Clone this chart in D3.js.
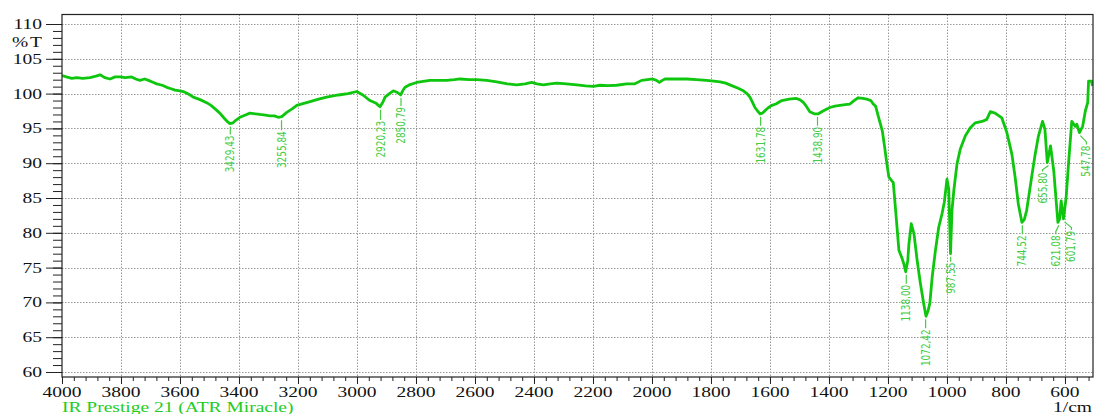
<!DOCTYPE html>
<html>
<head>
<meta charset="utf-8">
<script src="https://cdn.jsdelivr.net/npm/d3@7/dist/d3.min.js"></script>
<style>
  html, body { margin: 0; padding: 0; background: #fff; }
  svg { display: block; }
</style>
</head>
<body>
<svg id="chart" width="1095" height="414"></svg>
<script>
// ---------------- data ----------------
const wavenumber = [4000,3985,3967,3950,3930,3905,3885,3871,3855,3837,3820,3803,3785,3764,3750,3736,3720,3707,3690,3679,3660,3645,3630,3617,3600,3589,3570,3555,3530,3510,3495,3481,3465,3453,3440,3431,3420,3410,3397,3380,3363,3345,3329,3310,3295,3280,3267,3255,3238,3220,3204,3180,3159,3130,3103,3063,3030,3001,2980,2956,2935,2922,2912,2905,2890,2877,2865,2852,2845,2837,2820,2798,2770,2753,2720,2696,2670,2651,2620,2594,2560,2526,2490,2459,2430,2408,2390,2368,2345,2323,2290,2255,2225,2199,2176,2148,2120,2086,2058,2035,2015,1998,1985,1975,1965,1956,1920,1882,1850,1815,1790,1769,1750,1730,1710,1690,1678,1668,1660,1651,1642,1634,1625,1617,1605,1594,1580,1560,1535,1510,1498,1487,1477,1465,1450,1436,1420,1397,1380,1363,1345,1329,1315,1301,1285,1272,1258,1250,1242,1230,1219,1211,1204,1197,1182,1174,1163,1152,1146,1140,1133,1129,1121,1112,1101,1090,1078,1071,1064,1058,1050,1039,1028,1017,1009,1000,994,988,983,977,966,955,938,921,904,881,865,853,837,814,797,780,769,758,746,738,730,713,701,690,676,668,660,649,638,629,624,618,613,605,596,588,577,565,560,551,540,531,523,520,510,507];
const transmittance = [102.6,102.4,102.2,102.3,102.2,102.3,102.5,102.7,102.3,102.1,102.4,102.4,102.3,102.4,102.1,101.9,102.1,101.9,101.6,101.4,101.2,100.9,100.7,100.5,100.4,100.3,99.9,99.5,99.1,98.7,98.3,97.8,97.2,96.6,96.0,95.7,95.8,96.2,96.6,96.9,97.2,97.1,97.0,96.9,96.8,96.8,96.6,96.7,97.3,97.8,98.3,98.6,98.85,99.2,99.5,99.8,100.0,100.3,99.8,99.0,98.6,98.1,98.8,99.5,100.0,100.4,100.2,99.8,100.4,100.9,101.3,101.6,101.8,101.9,101.9,101.9,102.0,102.1,102.0,102.0,101.9,101.7,101.4,101.25,101.4,101.6,101.4,101.25,101.4,101.5,101.4,101.25,101.1,101.05,101.2,101.15,101.2,101.4,101.4,101.9,102.0,102.1,101.9,101.6,101.9,102.1,102.1,102.1,102.0,101.9,101.8,101.7,101.5,101.15,100.8,100.4,100.0,99.5,98.8,98.0,97.5,97.1,97.2,97.55,98.0,98.3,98.5,99.0,99.2,99.3,99.1,98.75,98.2,97.4,97.1,97.1,97.5,98.0,98.2,98.3,98.4,98.5,99.0,99.4,99.3,99.2,99.0,98.5,98.2,96.3,94.6,92.2,90.0,88.0,87.2,83.2,77.5,76.3,75.5,74.4,76.0,78.4,81.3,79.9,76.0,72.7,69.6,68.0,68.8,69.9,73.7,77.5,80.8,82.7,84.4,87.7,86.3,77.0,83.2,86.0,89.9,92.0,93.9,95.1,95.8,96.0,96.3,97.4,97.2,96.5,94.4,91.3,88.0,84.1,81.5,81.9,83.2,88.0,91.3,93.9,96.0,94.9,90.1,92.5,88.9,84.1,81.5,82.0,84.6,82.0,85.1,89.9,96.0,95.3,95.6,94.4,95.3,97.5,98.7,101.8,101.8,101.1];

const peakWavenumber = [3429.43,3255.84,2920.23,2850.79,1631.78,1438.90,1138.00,1072.42,987.55,744.52,655.80,621.08,601.79,547.78];
const peakTransmittance = [95.7,96.6,98.1,99.8,97.1,97.1,74.4,68.0,77.0,81.5,90.1,81.5,82.0,94.4];
const peakLabels = ["3429,43","3255,84","2920,23","2850,79","1631,78","1438,90","1138,00","1072,42","987,55","744,52","655,80","621,08","601,79","547,78"];

const xMajorTicks = d3.range(4000, 599, -200);
const yMajorTicks = d3.range(60, 111, 5);
const yLabel = "% T";
const xLabel = "1/cm";
const instrumentLabel = "IR Prestige 21 (ATR Miracle)";

// ---------------- layout ----------------
const PL = 62, PR = 1093, PT = 14.5, PB = 377;
const x = d3.scaleLinear().domain([4000, 505]).range([PL, PR]);
const y = d3.scaleLinear().domain([60, 110]).range([372, 24]);

// per-label leader layout (text x shift, leader length)
const labelDx = [0,0,0,0,0,0,0,0,0,0,-6,-3,7,6];
const leaderLen = [8,10,10,8,9,9,9,9,5,9,6,9,8,9];

const svg = d3.select("#chart");
const serif = "'Liberation Serif','Times New Roman',serif";
const narrow = "'Liberation Sans Narrow','DejaVu Sans Condensed','Arial Narrow',sans-serif";
const SX = 1.3;

// grid
const grid = svg.append("g").attr("stroke", "#9a9a9a").attr("stroke-width", 1).attr("stroke-dasharray", "1.5,1.5");
grid.selectAll("line.v").data(xMajorTicks.slice(1)).join("line")
  .attr("x1", d => Math.round(x(d)) + 0.5).attr("x2", d => Math.round(x(d)) + 0.5)
  .attr("y1", PT).attr("y2", PB);
grid.selectAll("line.h").data(yMajorTicks).join("line")
  .attr("y1", d => Math.round(y(d)) + 0.5).attr("y2", d => Math.round(y(d)) + 0.5)
  .attr("x1", PL).attr("x2", PR);

// axes
const xMinor = d3.range(4000, 505, -40);
const gx = svg.append("g").attr("transform", `translate(0,${PB})`);
gx.call(d3.axisBottom(x).tickValues(xMinor).tickSize(4).tickFormat(""));
gx.call(g => g.select(".domain").remove());
const gx2 = svg.append("g").attr("transform", `translate(0,${PB})`);
gx2.call(d3.axisBottom(x).tickValues(xMajorTicks).tickSize(7).tickFormat(""));
gx2.call(g => g.select(".domain").remove());

const yMinor = d3.range(60, 110.5, 1);
const gy = svg.append("g").attr("transform", `translate(${PL},0)`);
gy.call(d3.axisLeft(y).tickValues(yMinor).tickSize(9).tickFormat(""));
gy.call(g => g.select(".domain").remove());
const gy2 = svg.append("g").attr("transform", `translate(${PL},0)`);
gy2.call(d3.axisLeft(y).tickValues(yMajorTicks).tickSize(16).tickFormat(""));
gy2.call(g => g.select(".domain").remove());
svg.selectAll(".tick line").attr("stroke", "#222");

// tick labels
svg.append("g").selectAll("text").data(xMajorTicks).join("text")
  .attr("transform", d => `translate(${x(d)},397) scale(${SX},1)`)
  .attr("text-anchor", "middle").attr("font-family", serif).attr("font-size", 15).attr("fill", "#111")
  .text(d => d);
svg.append("g").selectAll("text").data(yMajorTicks).join("text")
  .attr("transform", d => `translate(42,${y(d) + 5}) scale(${SX},1)`)
  .attr("text-anchor", "end").attr("font-family", serif).attr("font-size", 15).attr("fill", "#111")
  .text(d => d);
svg.append("text").attr("transform", `translate(42,46.5) scale(${SX},1)`)
  .attr("text-anchor", "end").attr("font-family", serif).attr("font-size", 15).attr("fill", "#111")
  .attr("word-spacing", "-2").text(yLabel);
svg.append("text").attr("transform", `translate(1092,412) scale(${SX},1)`)
  .attr("text-anchor", "end").attr("font-family", serif).attr("font-size", 15).attr("fill", "#111")
  .text(xLabel);
svg.append("text").attr("transform", `translate(62,412) scale(${SX},1)`)
  .attr("font-family", serif).attr("font-size", 15).attr("fill", "#22cc22")
  .text(instrumentLabel);

// curve
svg.append("clipPath").attr("id", "clip").append("rect")
  .attr("x", PL).attr("y", PT).attr("width", PR - PL).attr("height", PB - PT);
const pts = wavenumber.map((w, i) => [w, transmittance[i]]);
svg.append("path").datum(pts)
  .attr("clip-path", "url(#clip)")
  .attr("fill", "none").attr("stroke", "#0fc60f").attr("stroke-width", 2.8)
  .attr("stroke-linejoin", "round")
  .attr("d", d3.line().x(d => x(d[0])).y(d => y(d[1])));

// peak labels
const lab = svg.append("g");
peakWavenumber.forEach((w, i) => {
  const px = x(w), py = y(peakTransmittance[i]) + 3;
  const tx = px + labelDx[i];
  const yEnd = py + leaderLen[i];
  let pathD;
  if (labelDx[i] === 0) pathD = `M${px},${py}V${yEnd}`;
  else pathD = `M${px},${py}L${tx},${py + leaderLen[i] * 0.7}V${yEnd}`;
  lab.append("path").attr("d", pathD).attr("fill", "none").attr("stroke", "#44cc44").attr("stroke-width", 1.2);
  lab.append("text")
    .attr("transform", `translate(${tx + 4},${yEnd + 1}) rotate(-90) scale(0.86,1)`)
    .attr("text-anchor", "end").attr("font-family", narrow).attr("font-size", 11.5)
    .attr("fill", "#44cc44").text(peakLabels[i]);
});

// frame
svg.append("rect").attr("x", PL).attr("y", PT).attr("width", PR - PL).attr("height", PB - PT)
  .attr("fill", "none").attr("stroke", "#222").attr("stroke-width", 1.2);
</script>
</body>
</html>
